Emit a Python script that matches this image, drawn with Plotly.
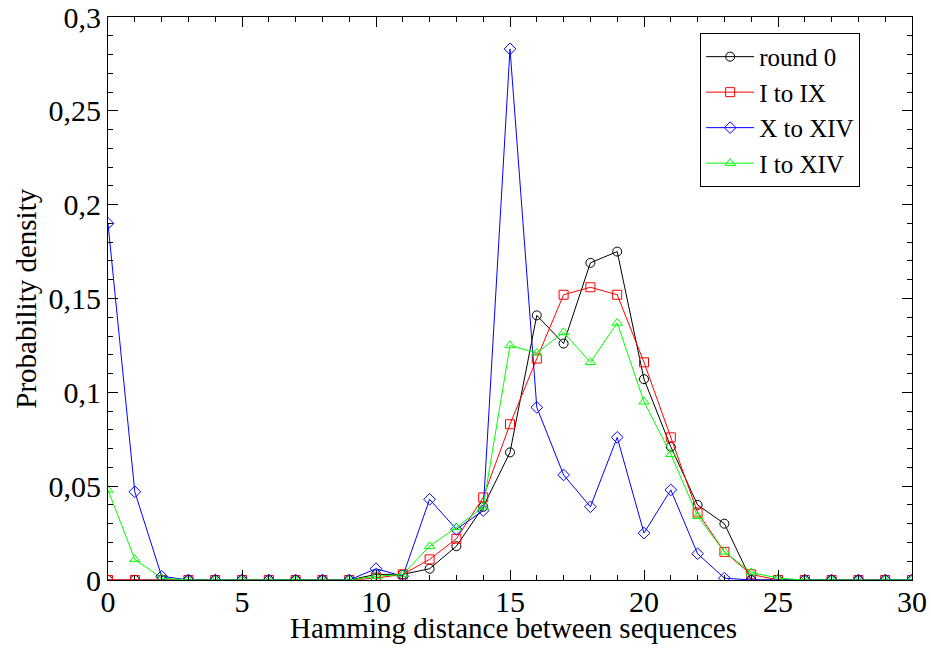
import plotly.graph_objects as go

x_vals = list(range(0, 31))

round0 = [0, 0, 0, 0, 0, 0, 0, 0, 0, 0, 0.003, 0.003, 0.006, 0.018, 0.039, 0.068, 0.141, 0.126, 0.169, 0.175,
          0.107, 0.071, 0.040, 0.030, 0.0, 0, 0, 0, 0, 0, 0]
i_to_ix = [0, 0, 0, 0, 0, 0, 0, 0, 0, 0, 0.001, 0.003, 0.011, 0.022, 0.044, 0.083, 0.118, 0.152, 0.156, 0.152,
           0.116, 0.076, 0.036, 0.015, 0.003, 0, 0, 0, 0, 0, 0]
x_to_xiv = [0.190, 0.047, 0.002, 0, 0, 0, 0, 0, 0, 0, 0.006, 0.002, 0.043, 0.027, 0.037, 0.283, 0.092, 0.056, 0.039, 0.076,
            0.025, 0.048, 0.014, 0.001, 0, 0, 0, 0, 0, 0, 0]
i_to_xiv = [0.048, 0.011, 0.001, 0, 0, 0, 0, 0, 0, 0, 0.002, 0.003, 0.018, 0.028, 0.039, 0.125, 0.121, 0.132, 0.116, 0.137,
            0.095, 0.067, 0.034, 0.015, 0.004, 0.001, 0, 0, 0, 0, 0]

y_tick_vals = [0, 0.05, 0.1, 0.15, 0.2, 0.25, 0.3]
y_tick_text = ["0", "0,05", "0,1", "0,15", "0,2", "0,25", "0,3"]
x_tick_vals = [0, 5, 10, 15, 20, 25, 30]

series = [
    ("round 0", round0, "black", "circle-open"),
    ("I to IX", i_to_ix, "red", "square-open"),
    ("X to XIV", x_to_xiv, "blue", "diamond-open"),
    ("I to XIV", i_to_xiv, "#00ff00", "triangle-up-open"),
]

x_title = "Hamming distance between sequences"
y_title = "Probability density"

fig = go.Figure()
for name, ys, color, sym in series:
    fig.add_trace(go.Scatter(
        x=x_vals, y=ys, name=name, mode="lines+markers",
        line=dict(color=color, width=1),
        marker=dict(symbol=sym, size=9, color=color, line=dict(width=1, color=color)),
    ))

font_family = "Liberation Serif, Times New Roman, serif"
fig.update_layout(
    width=931, height=653,
    margin=dict(l=108, r=19, t=17, b=73),
    paper_bgcolor="white", plot_bgcolor="white",
    separators=",.",
    font=dict(family=font_family, size=26, color="black"),
    showlegend=True,
    legend=dict(
        x=0.836, y=0.835, xanchor="center", yanchor="middle",
        bordercolor="black", borderwidth=1, bgcolor="white",
        font=dict(family=font_family, size=25),
        tracegroupgap=0, itemwidth=48,
    ),
    annotations=[
        dict(text=x_title, xref="paper", yref="paper", x=0.504, y=-0.086,
             xanchor="center", yanchor="middle", showarrow=False,
             font=dict(family=font_family, size=29)),
        dict(text=y_title, xref="paper", yref="paper", x=-0.103, y=0.50,
             xanchor="center", yanchor="middle", showarrow=False, textangle=-90,
             font=dict(family=font_family, size=29)),
    ],
)
fig.update_xaxes(
    range=[0, 30], tickvals=x_tick_vals,
    ticks="inside", ticklen=10, tickwidth=1, tickcolor="black",
    minor=dict(dtick=1, tick0=0, ticks="inside", ticklen=5, tickcolor="black"),
    showline=True, linecolor="black", linewidth=1, mirror="allticks",
    showgrid=False, zeroline=False, automargin=False,
    tickfont=dict(size=30), ticklabelstandoff=-5,
)
fig.update_yaxes(
    range=[0, 0.3], tickvals=y_tick_vals, ticktext=y_tick_text,
    ticks="inside", ticklen=10, tickwidth=1, tickcolor="black",
    minor=dict(dtick=0.01, tick0=0, ticks="inside", ticklen=5, tickcolor="black"),
    showline=True, linecolor="black", linewidth=1, mirror="allticks",
    showgrid=False, zeroline=False, automargin=False,
    tickfont=dict(size=30),
)

fig.write_html(
    "out.html",
    config={"displayModeBar": False},
    post_script="document.body.style.margin='0';document.body.style.overflow='hidden';",
)
